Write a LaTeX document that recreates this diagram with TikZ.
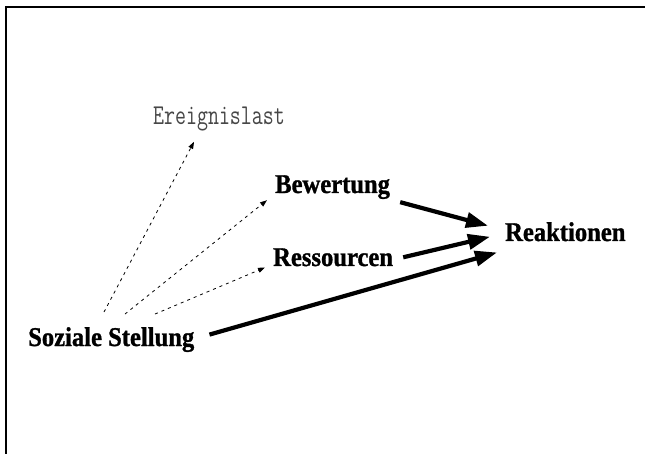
\documentclass[tikz,border=0pt]{standalone}
\usepackage{fontspec}
\setmainfont{Liberation Serif}[BoldFeatures={FakeBold=1.2}]
\usetikzlibrary{arrows.meta}
\newcommand{\tallbox}[1]{\scalebox{1}[1.1]{#1}}
\begin{document}
\begin{tikzpicture}[x=1pt,y=-1pt,
  label/.style={inner sep=0pt,anchor=base west,font=\fontsize{24.6}{28}\selectfont\bfseries},
  faint/.style={inner sep=0pt,anchor=base west,text=black!72,font=\fontsize{21.3}{24}\selectfont\ttfamily},
  dotarrow/.style={line width=0.8pt,dash pattern=on 3pt off 4pt,-{Triangle[length=7pt,width=5pt]}},
  mainarrow/.style={line width=4.2pt,-{Triangle[length=22pt,width=15pt]}}]
  \useasboundingbox (0,0) rectangle (645,454);
  % frame: top and left rules
  \draw[line width=1.3pt] (6,454) -- (6,7) -- (645,7);

  % variables
  \node[faint] (erg) at (153,125) {\scalebox{1}[1.35]{Ereignislast}};
  \node[label] (bew) at (275,193) {\tallbox{Bewertung}};
  \node[label] (res) at (273,266) {\tallbox{Ressourcen}};
  \node[label] (rea) at (505,241) {\tallbox{Reaktionen}};
  \node[label] (soz) at (28,346) {\tallbox{Soziale Stellung}};

  % weak (dotted) paths from social position
  \draw[dotarrow] ([xshift=76pt,yshift=15pt]soz.north west) -- ([xshift=-25pt,yshift=-10pt]erg.south);
  \draw[dotarrow] ([xshift=97pt,yshift=13pt]soz.north west) -- ([xshift=-8pt,yshift=-1pt]bew.south west);
  \draw[dotarrow] ([xshift=127pt,yshift=13pt]soz.north west) -- ([xshift=-8pt,yshift=-1pt]res.south west);

  % strong paths into reactions
  \draw[mainarrow] ([xshift=10pt,yshift=-3pt]bew.south east) -- ([xshift=-17pt,yshift=6pt]rea.west);
  \draw[mainarrow] ([xshift=10pt]res.east) -- ([xshift=-15pt,yshift=-5pt]rea.west);
  \draw[mainarrow] ([xshift=15pt,yshift=5pt]soz.east) -- ([xshift=-8pt,yshift=-11pt]rea.south west);
\end{tikzpicture}
\end{document}
